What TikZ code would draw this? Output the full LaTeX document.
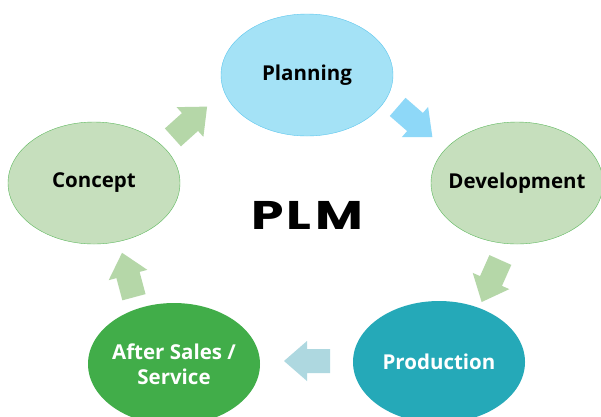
\documentclass[tikz,border=0pt]{standalone}
\usepackage{fontspec}
\setmainfont{Open Sans}
\newfontfamily\titlefont{Poppins}
\definecolor{planfill}{HTML}{A4E2F6}
\definecolor{planline}{HTML}{5CC6EE}
\definecolor{leaffill}{HTML}{C6DFBD}
\definecolor{leafline}{HTML}{5DB85D}
\definecolor{prodfill}{HTML}{25A9B8}
\definecolor{salesfill}{HTML}{41AD49}
\definecolor{arrgreen}{HTML}{B5D7A8}
\definecolor{arrblue}{HTML}{8ED8F8}
\definecolor{arrteal}{HTML}{AED8E0}
\tikzset{
  % fixed-size ellipse; the caption sits on top as a centred label
  stage/.style 2 args={ellipse, minimum width=172pt, minimum height=122pt, inner sep=0pt,
    label={[align=center, text=#2, font=\fontsize{20.5}{25}\selectfont\bfseries]center:#1}},
  blockarrow/.pic={
    \fill (-23,-12) -- (0,-12) -- (0,-20) -- (23,0) -- (0,20) -- (0,12) -- (-23,12) -- cycle;
  }
}
\usetikzlibrary{shapes.geometric}
\begin{document}
\begin{tikzpicture}[x=1pt,y=-1pt]
  \useasboundingbox (0,0) rectangle (601,416);
  \fill[white] (0,0) rectangle (601,416);

  % life-cycle stages
  \node[stage={Development}{black}, draw=leafline, fill=leaffill] (development) at (517,183) {};
  \node[stage={Planning}{black}, draw=planline, fill=planfill] (planning) at (307,75) {};
  \node[stage={Production}{white}, fill=prodfill] (production) at (439,362) {};
  \node[stage={After Sales /\\Service}{white}, fill=salesfill] (sales) at (174,364) {};
  \node[stage={Concept}{black}, draw=leafline, fill=leaffill] (concept) at (94,183) {};

  % centre title
  \node[font=\titlefont\fontsize{40}{40}\selectfont\bfseries] (plm) at (307,215)
    {\scalebox{1.3}[1]{P\kern2.5ptL\kern2.5ptM}};

  % block arrows between the stages
  \pic[fill=arrgreen, shift={(190,122)}, rotate=42] {blockarrow};
  \pic[fill=arrblue, shift={(415,122)}, rotate=-41] {blockarrow};
  \pic[fill=arrgreen, shift={(491,281)}, rotate=-114] {blockarrow};
  \pic[fill=arrteal, shift={(307,361)}, rotate=180] {blockarrow};
  \pic[fill=arrgreen, shift={(128,275)}, rotate=105] {blockarrow};
\end{tikzpicture}
\end{document}
